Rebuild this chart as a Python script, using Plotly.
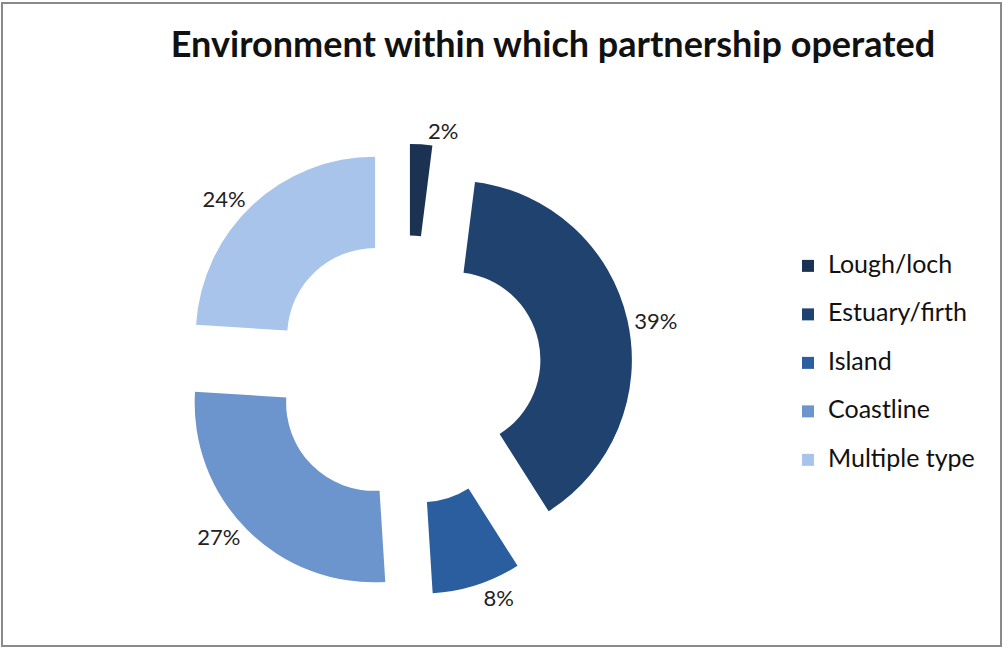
import plotly.graph_objects as go

# Partnership environments and their share (%)
categories = ["Lough/loch", "Estuary/firth", "Island", "Coastline", "Multiple type"]
shares = [2, 39, 8, 27, 24]
colors = ["#1b3253", "#1f426f", "#2b5e9e", "#6c95cd", "#a8c4ea"]

W, H = 1003, 648

# Donut geometry in pixels
cx, cy = 407, 370
half = 226  # half of the square domain (radius incl. pull)

dom_x = [(cx - half) / W, (cx + half) / W]
dom_y = [(H - cy - half) / H, (H - cy + half) / H]

# Legend labels: a trailing blank line widens the row spacing
legend_labels = [f"<span style='font-size:25px'>{c}</span><br> " for c in categories]

fig = go.Figure(
    go.Pie(
        labels=legend_labels,
        values=shares,
        hole=0.49,
        pull=0.26,
        sort=False,
        direction="clockwise",
        rotation=0,
        marker=dict(colors=colors, line=dict(width=0)),
        textinfo="percent",
        texttemplate="%{value}%",
        textposition="outside",
        outsidetextfont=dict(family="Lato, sans-serif", size=22, color="#222222"),
        domain=dict(x=dom_x, y=dom_y),
        hoverinfo="skip",
    )
)

fig.update_layout(
    width=W,
    height=H,
    autosize=False,
    margin=dict(l=0, r=0, t=0, b=0, pad=0, autoexpand=False),
    paper_bgcolor="white",
    plot_bgcolor="white",
    title=dict(
        text="<b>Environment within which partnership operated</b>",
        x=553 / W,
        xanchor="center",
        y=1 - 44 / H,
        yanchor="middle",
        font=dict(family="Lato, sans-serif", size=36, color="#111111"),
    ),
    showlegend=True,
    legend=dict(
        x=788 / W,
        xanchor="left",
        y=1 - 248 / H,
        yanchor="top",
        valign="top",
        font=dict(family="Lato, sans-serif", size=17.5, color="#111111"),
        bgcolor="rgba(0,0,0,0)",
        itemclick=False,
    ),
    shapes=[
        dict(
            type="rect", xref="paper", yref="paper",
            x0=2 / W, x1=1001 / W, y0=1 - 646 / H, y1=1 - 3 / H,
            line=dict(color="#8a8a8a", width=2),
            fillcolor="rgba(0,0,0,0)",
        )
    ],
)

fig.write_html("out.html", config={"responsive": False})
